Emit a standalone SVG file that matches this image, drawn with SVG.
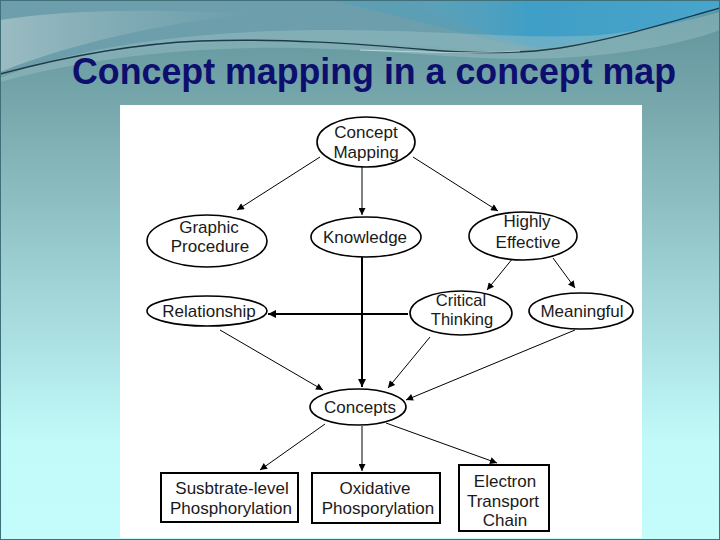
<svg xmlns="http://www.w3.org/2000/svg" width="720" height="540" viewBox="0 0 720 540">
  <defs>
    <linearGradient id="bg" x1="0" y1="0" x2="0" y2="1">
      <stop offset="0" stop-color="#5e929c"/>
      <stop offset="0.2" stop-color="#78a8ac"/>
      <stop offset="0.55" stop-color="#a2d6d8"/>
      <stop offset="0.82" stop-color="#c2fafa"/>
      <stop offset="1" stop-color="#c4fcfc"/>
    </linearGradient>
    <linearGradient id="blue" x1="0" y1="0" x2="1" y2="0">
      <stop offset="0" stop-color="#6fa8bc" stop-opacity="0"/>
      <stop offset="0.4" stop-color="#3c9ec8"/>
      <stop offset="1" stop-color="#4aa8d0"/>
    </linearGradient>
    <linearGradient id="leftlight" x1="0" y1="0" x2="1" y2="0">
      <stop offset="0" stop-color="#b0c8cc"/>
      <stop offset="1" stop-color="#8fb8c0" stop-opacity="0"/>
    </linearGradient>
    <marker id="ah" viewBox="0 0 10 10" refX="10" refY="5" markerWidth="9" markerHeight="7" markerUnits="userSpaceOnUse" orient="auto">
      <path d="M0,0 L10,5 L0,10 Z" fill="#000"/>
    </marker>
    <marker id="ahb" viewBox="0 0 10 10" refX="10" refY="5" markerWidth="10" markerHeight="8" markerUnits="userSpaceOnUse" orient="auto">
      <path d="M0,0 L10,5 L0,10 Z" fill="#000"/>
    </marker>
  </defs>
  <style>
    .node ellipse { fill: #fff; stroke: #000; stroke-width: 1.6; }
    .node rect { fill: #fff; stroke: #000; stroke-width: 2; }
    .node text { font-family: "Liberation Sans", Arial, sans-serif; font-size: 17px; fill: #1a1a1a; text-anchor: middle; }
    .node text.sm { font-size: 16.5px; }
    .thin { stroke: #000; stroke-width: 1; fill: none; marker-end: url(#ah); }
    .thick { stroke: #000; stroke-width: 2; fill: none; marker-end: url(#ahb); }
    .title { font-family: "Liberation Sans", Arial, sans-serif; font-weight: bold; font-size: 36px; fill: #0e0e6e; }
  </style>

  <!-- background -->
  <rect x="0" y="0" width="720" height="540" fill="url(#bg)"/>
  <path d="M0,0 H720 V8 C640,30 560,45 500,52 C420,45 300,38 200,44 C120,50 50,62 0,72 Z" fill="#6c9eab"/>
  <path d="M400,0 H720 V10 C660,28 600,42 540,48 C500,40 450,20 400,0 Z" fill="url(#blue)" opacity="0.9"/>
  <path d="M330,0 C420,20 480,40 540,50 C610,40 670,20 720,5 V0 Z" fill="#3ea0c8" opacity="0.35"/>
  <path d="M0,20 C60,10 150,8 260,14 C180,20 80,40 0,72 Z" fill="url(#leftlight)" opacity="0.7"/>
  <path d="M0,78 C80,45 200,30 330,30 C450,30 520,40 600,35 C650,30 690,20 720,12 V30 C680,45 620,55 560,58 C470,62 400,50 300,48 C180,46 80,60 0,82 Z" fill="#9cc2c6" opacity="0.45"/>
  <path d="M0,74 C60,58 130,44 200,41 C280,38 360,44 430,50 C480,54 520,54 560,48 C620,38 670,22 720,8" fill="none" stroke="#1e3a48" stroke-width="1.4"/>
  <path d="M360,50 C420,52 470,54 520,51" fill="none" stroke="#e8f4f8" stroke-width="0.8" opacity="0.7"/>
  <rect x="0.5" y="0.5" width="719" height="539" fill="none" stroke="#3f6f78" stroke-width="1"/>

  <!-- title -->
  <text class="title" x="72" y="84" textLength="604" lengthAdjust="spacingAndGlyphs">Concept mapping in a concept map</text>

  <!-- white panel -->
  <rect x="120" y="105" width="522" height="433" fill="#fff"/>

  <!-- connectors -->
  <g id="connectors">
    <line class="thin" x1="320" y1="157" x2="237" y2="210"/>
    <line class="thin" x1="362" y1="167" x2="362" y2="215"/>
    <line class="thin" x1="413" y1="157" x2="498" y2="211"/>
    <line class="thin" x1="513" y1="258" x2="487" y2="290"/>
    <line class="thin" x1="553" y1="258" x2="575" y2="288"/>
    <line class="thick" x1="362" y1="257" x2="362" y2="387"/>
    <line class="thick" x1="408" y1="314" x2="268" y2="314"/>
    <line class="thin" x1="220" y1="330" x2="323" y2="390"/>
    <line class="thin" x1="430" y1="337" x2="388" y2="388"/>
    <line class="thin" x1="575" y1="330" x2="406" y2="400"/>
    <line class="thin" x1="325" y1="424" x2="260" y2="470"/>
    <line class="thin" x1="362" y1="426" x2="362" y2="471"/>
    <line class="thin" x1="386" y1="423" x2="497" y2="463"/>
  </g>

  <!-- nodes -->
  <g id="concept-mapping" class="node">
    <ellipse cx="366" cy="142" rx="49" ry="25"/>
    <text x="366" y="138">Concept</text>
    <text x="366" y="158">Mapping</text>
  </g>
  <g id="graphic-procedure" class="node">
    <ellipse cx="207" cy="241" rx="60" ry="26"/>
    <text x="209" y="233">Graphic</text>
    <text x="210" y="252">Procedure</text>
  </g>
  <g id="knowledge" class="node">
    <ellipse cx="366" cy="237" rx="55" ry="20"/>
    <text x="365" y="243">Knowledge</text>
  </g>
  <g id="highly-effective" class="node">
    <ellipse cx="523" cy="236" rx="54" ry="24"/>
    <text x="527" y="227">Highly</text>
    <text x="528" y="248">Effective</text>
  </g>
  <g id="relationship" class="node">
    <ellipse cx="207" cy="311" rx="60" ry="15"/>
    <text x="209" y="317">Relationship</text>
  </g>
  <g id="critical-thinking" class="node">
    <ellipse cx="461" cy="313" rx="51" ry="22"/>
    <text class="sm" x="461" y="306">Critical</text>
    <text class="sm" x="462" y="325">Thinking</text>
  </g>
  <g id="meaningful" class="node">
    <ellipse cx="581" cy="311" rx="52" ry="18"/>
    <text x="582" y="317">Meaningful</text>
  </g>
  <g id="concepts" class="node">
    <ellipse cx="358" cy="407" rx="48" ry="18"/>
    <text x="360" y="413">Concepts</text>
  </g>
  <g id="substrate" class="node">
    <rect x="161" y="473" width="137" height="49"/>
    <text x="232" y="494">Susbtrate-level</text>
    <text x="231" y="514">Phosphorylation</text>
  </g>
  <g id="oxidative" class="node">
    <rect x="312" y="473" width="128" height="50"/>
    <text x="375" y="494">Oxidative</text>
    <text x="378" y="514">Phosporylation</text>
  </g>
  <g id="electron" class="node">
    <rect x="459" y="465" width="90" height="66"/>
    <text x="505" y="487">Electron</text>
    <text x="503" y="507">Transport</text>
    <text x="505" y="526">Chain</text>
  </g>
</svg>
